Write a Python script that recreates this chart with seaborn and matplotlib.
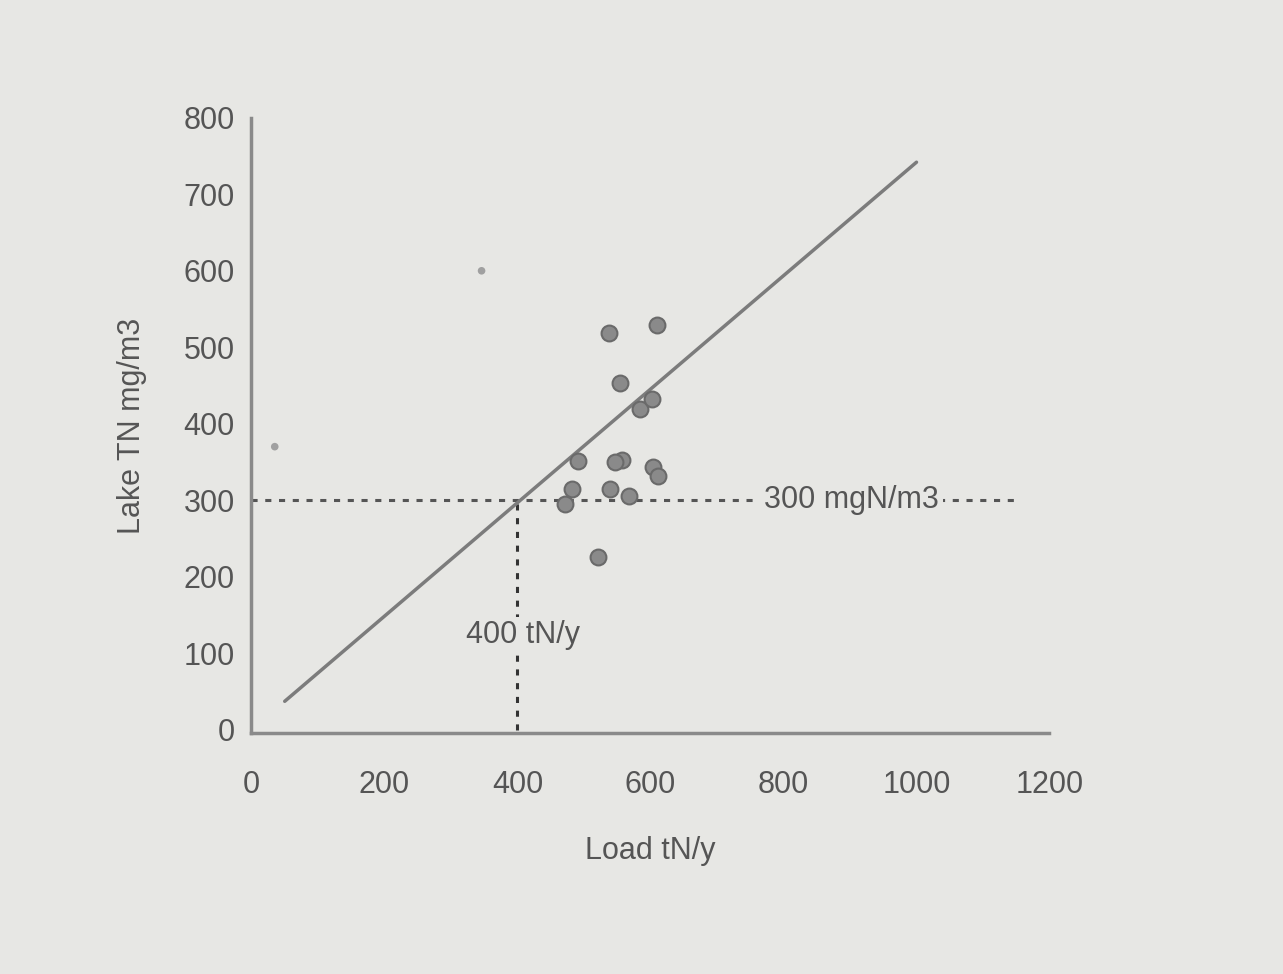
import matplotlib
matplotlib.use('Agg')
import matplotlib.pyplot as plt
import seaborn as sns
import pandas as pd

# Observed lakes: nitrogen load (tN/y) vs lake TN (mg/m3)
load = [538, 610, 554, 584, 602, 491, 557, 604, 611, 482, 471, 539, 521, 568, 547]
lake_tn = [518, 529, 453, 419, 432, 351, 353, 343, 332, 314, 295, 314, 226, 305, 350]

# faint points
faint_load = [346, 35]
faint_tn = [600, 370]

# regression line ends
line_x = [50, 1000]
line_y = [37, 742]

x_ticks = [0, 200, 400, 600, 800, 1000, 1200]
y_ticks = [0, 100, 200, 300, 400, 500, 600, 700, 800]

bg = '#e7e7e4'
ink = '#555555'

sns.set_style('white')
plt.rcParams['font.family'] = ['Liberation Sans', 'DejaVu Sans']

fig = plt.figure(figsize=(12.83, 9.74), dpi=100, facecolor=bg)
ax = fig.add_axes([0.196, 0.247, 0.622, 0.632])
ax.set_facecolor(bg)

df = pd.DataFrame({'load': load, 'tn': lake_tn})
sns.scatterplot(data=df, x='load', y='tn', ax=ax, s=130, color='#8a8a8a',
                edgecolor='#6a6a6a', linewidth=1.5, zorder=3)
sns.scatterplot(x=faint_load, y=faint_tn, ax=ax, s=30, color='#a0a0a0',
                edgecolor='none', zorder=3)
sns.lineplot(x=line_x, y=line_y, ax=ax, color='#7c7c7c', linewidth=2.5, zorder=2)

# thresholds
ax.plot([0, 1150], [300, 300], ls=(0, (2, 2.5)), color='#555555', lw=2.2, zorder=1)
ax.plot([400, 400], [0, 300], ls=(0, (2, 2.5)), color='#333333', lw=2.2, zorder=1)
ax.text(902, 300, '300 mgN/m3', ha='center', va='center', fontsize=22, color=ink,
        bbox=dict(facecolor=bg, edgecolor='none', pad=3), zorder=4)
ax.text(408, 124, '400 tN/y', ha='center', va='center', fontsize=22, color=ink,
        bbox=dict(facecolor=bg, edgecolor='none', pad=2), zorder=4)

ax.set_xlim(0, 1200)
ax.set_ylim(-5, 800)
ax.set_xticks(x_ticks)
ax.set_yticks(y_ticks)
ax.tick_params(axis='both', labelsize=22, colors=ink, direction='inout', length=8, width=1.5)
ax.tick_params(axis='x', pad=22)
ax.tick_params(axis='y', pad=8)
for side in ['top', 'right']:
    ax.spines[side].set_visible(False)
for side in ['left', 'bottom']:
    ax.spines[side].set_color('#8a8a8a')
    ax.spines[side].set_linewidth(2.5)

ax.set_xlabel('Load tN/y', fontsize=22, color=ink, labelpad=26)
ax.set_ylabel('Lake TN mg/m3', fontsize=22, color=ink, labelpad=26)

fig.savefig('out.png', dpi=100, facecolor=bg)
plt.close()
